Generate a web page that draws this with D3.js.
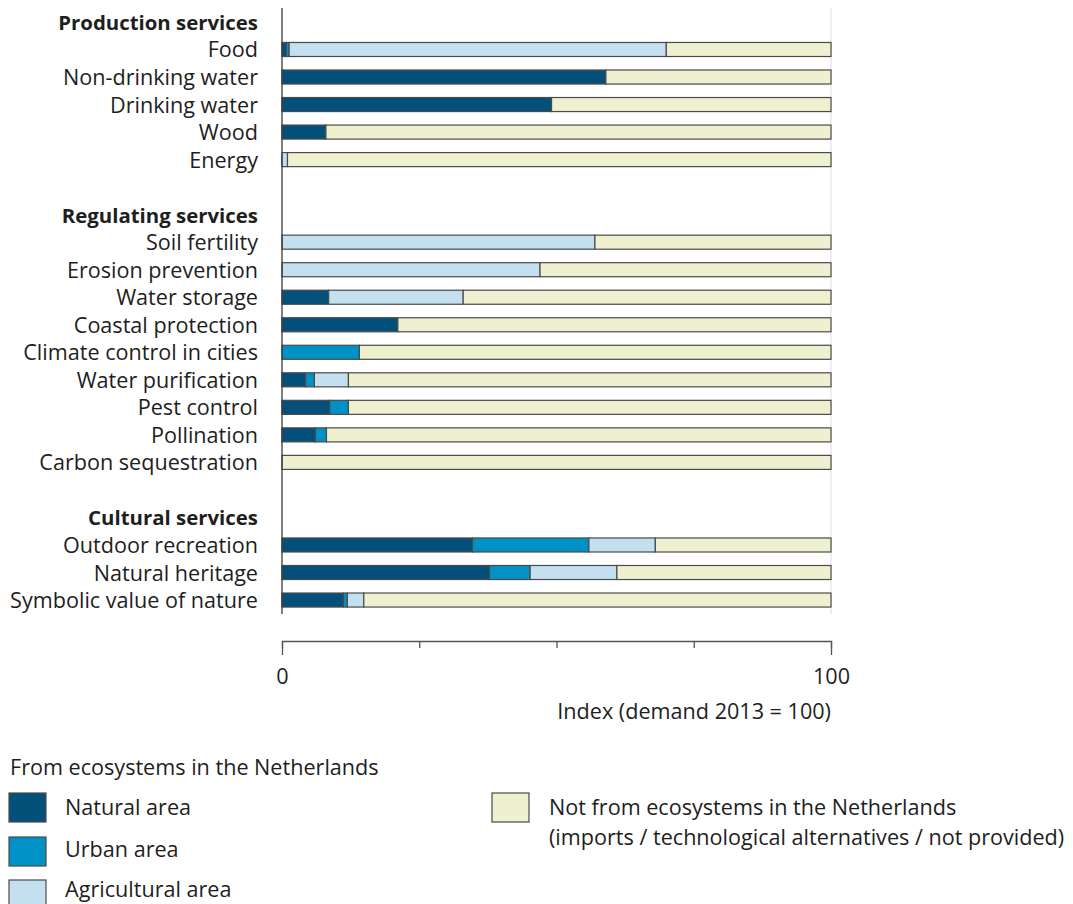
<!DOCTYPE html>
<html><head><meta charset="utf-8">
<script src="https://cdn.jsdelivr.net/npm/d3@7"></script>
<style>
body{margin:0;background:#fff;}
text{font-family:"Open Sans",sans-serif;fill:#1e1e1e;}
</style></head><body>
<svg id="chart" width="1073" height="904"></svg>
<script>
// ---- data ----
const groups = ["Production services", "Regulating services", "Cultural services"];
const services = ["Food","Non-drinking water","Drinking water","Wood","Energy",
  "Soil fertility","Erosion prevention","Water storage","Coastal protection","Climate control in cities",
  "Water purification","Pest control","Pollination","Carbon sequestration",
  "Outdoor recreation","Natural heritage","Symbolic value of nature"];
const serviceGroup = [0,0,0,0,0, 1,1,1,1,1,1,1,1,1, 2,2,2];
const natural      = [0.8, 59.0, 49.1, 8.0, 0,   0,    0,    8.5, 21.1, 0,    4.3, 8.7, 6.1, 0,   34.7, 37.8, 11.2];
const urban        = [0.5, 0,    0,    0,   0,   0,    0,    0,   0,    14.1, 1.6, 3.4, 2.0, 0,   21.2, 7.4,  0.7];
const agricultural = [68.7,0,    0,    0,   1.0, 57.0, 47.0, 24.5,0,    0,    6.2, 0,   0,   0,   12.1, 15.8, 3.0];
const notFromNL    = [30.0,41.0, 50.9, 92.0,99.0,43.0, 53.0, 67.0,78.9, 85.9, 87.9,87.9,91.9,100, 32.0, 39.0, 85.1];
const xTicks = [0, 25, 50, 75, 100];
const xTickLabels = ["0", "", "", "", "100"];
const axisTitle = "Index (demand 2013 = 100)";
const seriesKeys = ["natural","urban","agricultural","notFromNL"];
const seriesNames = ["Natural area","Urban area","Agricultural area",
  "Not from ecosystems in the Netherlands|(imports / technological alternatives / not provided)"];
const legendTitle = "From ecosystems in the Netherlands";
const colors = ["#03507b","#0092c6","#c3dff0","#eff0d0"];

// ---- rows (headers, items, gaps) ----
const rows = [];
groups.forEach((g, gi) => {
  if (gi > 0) rows.push({key: "gap" + gi, type: "gap"});
  rows.push({key: "h" + gi, type: "header", label: g});
  services.forEach((s, i) => {
    if (serviceGroup[i] === gi) rows.push({key: "s" + i, type: "item", label: s, i});
  });
});
const table = services.map((s, i) => ({key: "s" + i, natural: natural[i], urban: urban[i],
  agricultural: agricultural[i], notFromNL: notFromNL[i]}));

const FS = 21.6;
const svg = d3.select("#chart");
const x = d3.scaleLinear().domain([0, 100]).range([282, 831]);
const y = d3.scaleBand().domain(rows.map(r => r.key)).range([8.2, 613.8])
  .paddingInner(0.49).paddingOuter(0.245);
const color = d3.scaleOrdinal().domain(seriesKeys).range(colors);

// gridline at 100
svg.append("line").attr("x1", x(100)).attr("x2", x(100)).attr("y1", 8).attr("y2", 614)
  .attr("stroke", "#e8e8e8").attr("stroke-width", 1.5);

// stacked bars
const stacked = d3.stack().keys(seriesKeys)(table);
const layers = svg.append("g").selectAll("g").data(stacked).join("g")
  .attr("fill", d => color(d.key));
layers.selectAll("rect").data(d => d.filter(p => p[1] - p[0] > 0)).join("rect")
  .attr("x", p => x(p[0]))
  .attr("width", p => x(p[1]) - x(p[0]))
  .attr("y", p => y(p.data.key))
  .attr("height", y.bandwidth())
  .attr("stroke", "#4a4a4a").attr("stroke-width", 1.2);

// vertical axis line
svg.append("line").attr("x1", 282).attr("x2", 282).attr("y1", 8).attr("y2", 614)
  .attr("stroke", "#3a3a3a").attr("stroke-width", 1.3);

// row labels
svg.append("g").selectAll("text").data(rows.filter(r => r.type !== "gap")).join("text")
  .attr("x", 258).attr("y", r => y(r.key) + y.bandwidth() / 2 + 8)
  .attr("text-anchor", "end")
  .attr("font-size", r => r.type === "header" ? 20.4 : FS)
  .attr("font-weight", r => r.type === "header" ? 700 : 400)
  .text(r => r.label);

// bottom axis
const ax = svg.append("g").attr("transform", "translate(0,641)")
  .call(d3.axisBottom(x).tickValues(xTicks).tickSize(7).tickSizeOuter(14).tickPadding(21)
    .tickFormat((d, i) => xTickLabels[i]));
ax.selectAll("path,line").attr("stroke", "#555").attr("stroke-width", 1.3);
ax.selectAll("text").attr("font-size", FS).attr("font-family", "Open Sans").attr("fill", "#1e1e1e");
svg.append("text").attr("x", 831).attr("y", 719).attr("text-anchor", "end")
  .attr("font-size", FS).text(axisTitle);

// legend
svg.append("text").attr("x", 10).attr("y", 775).attr("font-size", FS).text(legendTitle);
const leg = [
  {k: 0, x: 9, y: 793, tx: 65, ty: 815},
  {k: 1, x: 9, y: 837, tx: 65, ty: 857},
  {k: 2, x: 9, y: 880, tx: 65, ty: 897},
  {k: 3, x: 492, y: 793, tx: 549, ty: 815}
];
leg.forEach(l => {
  svg.append("rect").attr("x", l.x).attr("y", l.y).attr("width", 37).attr("height", 29)
    .attr("fill", colors[l.k]).attr("stroke", "#4a4a4a").attr("stroke-width", 1.2);
  const lines = seriesNames[l.k].split("|");
  lines.forEach((t, j) => svg.append("text").attr("x", l.tx).attr("y", l.ty + j * 30)
    .attr("font-size", FS).text(t));
});
</script></body></html>
